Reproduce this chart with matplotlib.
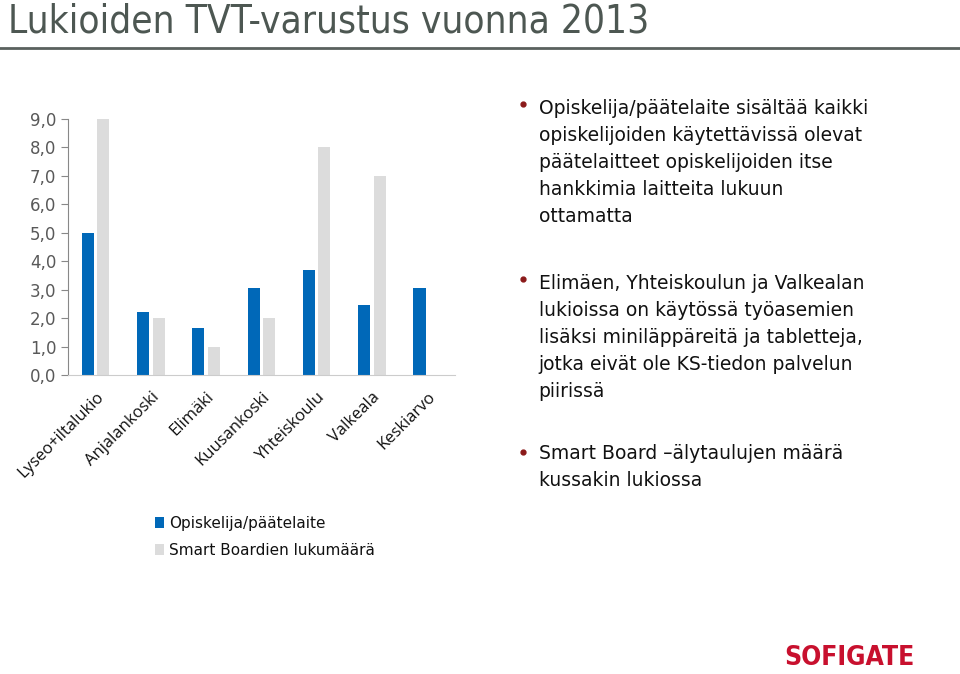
import matplotlib
matplotlib.use("Agg")
import matplotlib.pyplot as plt
import numpy as np

schools = ["Lyseo+iltalukio", "Anjalankoski", "Elimäki", "Kuusankoski",
           "Yhteiskoulu", "Valkeala", "Keskiarvo"]
per_device = [5.0, 2.2, 1.65, 3.05, 3.7, 2.45, 3.05]
smart_boards = [9, 2, 1, 2, 8, 7, 0]
yticks = [0, 1, 2, 3, 4, 5, 6, 7, 8, 9]

BLUE, GREY = "#0068B8", "#DCDCDC"

fig = plt.figure(figsize=(9.6, 6.74), dpi=100)
fig.patch.set_facecolor("white")

# title + rule
fig.text(0.008, 0.9525, "Lukioiden TVT-varustus vuonna 2013", fontsize=27.8,
         color="#4d5752", va="baseline", ha="left", family="DejaVu Sans",
         fontstretch="condensed")
fig.add_artist(plt.Line2D([0.0, 1.0], [0.929, 0.929], color="#5a615e", lw=2))

ax = fig.add_axes([0.0708, 0.4436, 0.403, 0.38])
x = np.arange(len(schools))
w = 0.22
ax.bar(x - 0.14, per_device, width=w, color=BLUE, label="Opiskelija/päätelaite")
ax.bar(x + 0.14, smart_boards, width=w, color=GREY, label="Smart Boardien lukumäärä")
ax.set_xlim(-0.5, len(schools) - 0.5)
ax.set_ylim(0, 9)
ax.set_yticks(yticks)
ax.set_yticklabels([f"{v:.1f}".replace(".", ",") for v in yticks], fontsize=12, color="#595959")
ax.set_xticks(x)
ax.set_xticklabels(schools, rotation=45, ha="right", rotation_mode="anchor",
                   fontsize=12, color="#111111", family=["Open Sans", "DejaVu Sans"])
ax.tick_params(axis="x", length=0, pad=10)
ax.tick_params(axis="y", length=5, color="#888888", direction="out")
for sp in ("top", "right"):
    ax.spines[sp].set_visible(False)
ax.spines["left"].set_color("#888888")
ax.spines["bottom"].set_color("#cccccc")

ax.legend(loc="upper left", bbox_to_anchor=(0.19, -0.497), frameon=False, fontsize=11,
          handlelength=0.55, handleheight=0.7, handletextpad=0.35, labelspacing=0.75,
          labelcolor="#111111")

# bullet text on the right
bullet_tops = [0.853, 0.5935, 0.341]
bullet_dots = [0.8457, 0.586, 0.329]
bullet_texts = [
    "Opiskelija/päätelaite sisältää kaikki\nopiskelijoiden käytettävissä olevat\npäätelaitteet opiskelijoiden itse\nhankkimia laitteita lukuun\nottamatta",
    "Elimäen, Yhteiskoulun ja Valkealan\nlukioissa on käytössä työasemien\nlisäksi miniläppäreitä ja tabletteja,\njotka eivät ole KS-tiedon palvelun\npiirissä",
    "Smart Board \u2013älytaulujen määrä\nkussakin lukiossa",
]
for yt, yd, txt in zip(bullet_tops, bullet_dots, bullet_texts):
    fig.add_artist(plt.Line2D([0.545], [yd], marker="o", ms=3.5, color="#8B1A1A",
                              transform=fig.transFigure))
    fig.text(0.561, yt, txt, fontsize=13.5, color="#111111", va="top",
             linespacing=1.53, ma="left")

fig.text(0.953, 0.004, "SOFIGATE", fontsize=19, fontweight="bold", color="#C8102E",
         ha="right", va="bottom", family="DejaVu Sans", fontstretch="condensed")

plt.savefig("out.png", dpi=100, facecolor="white")
